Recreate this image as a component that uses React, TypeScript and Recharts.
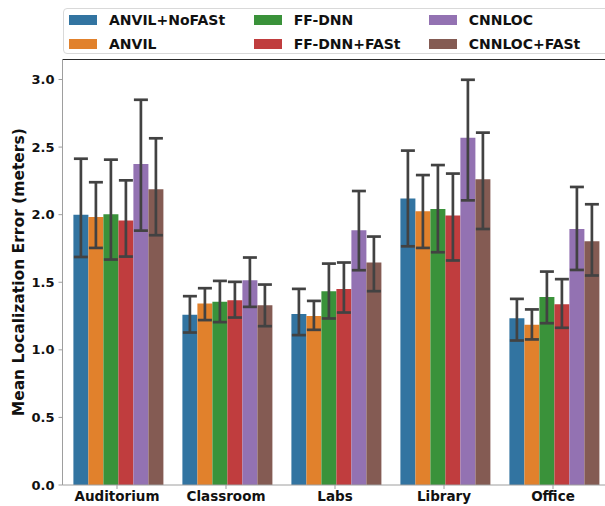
import React from 'react';
import { BarChart, Bar, XAxis, YAxis, ErrorBar, ReferenceLine } from 'recharts';

const categories = ['Auditorium', 'Classroom', 'Labs', 'Library', 'Office'];

const seriesNames = ['ANVIL+NoFASt', 'ANVIL', 'FF-DNN', 'FF-DNN+FASt', 'CNNLOC', 'CNNLOC+FASt'];
const seriesColors = ['#3274A1', '#E1812C', '#3A923A', '#C03D3E', '#9372B2', '#845B53'];

// mean values per series (in category order)
const anvilNoFast = [2.0, 1.26, 1.266, 2.119, 1.234];
const anvil = [1.983, 1.343, 1.251, 2.025, 1.185];
const ffDnn = [2.003, 1.355, 1.434, 2.042, 1.39];
const ffDnnFast = [1.956, 1.367, 1.451, 1.993, 1.338];
const cnnloc = [2.375, 1.515, 1.885, 2.57, 1.894];
const cnnlocFast = [2.188, 1.33, 1.646, 2.262, 1.803];

// confidence interval lower bounds
const anvilNoFastLow = [1.687, 1.128, 1.109, 1.766, 1.069];
const anvilLow = [1.754, 1.22, 1.148, 1.754, 1.077];
const ffDnnLow = [1.668, 1.205, 1.232, 1.722, 1.197];
const ffDnnFastLow = [1.69, 1.239, 1.276, 1.661, 1.163];
const cnnlocLow = [1.882, 1.318, 1.589, 2.106, 1.591];
const cnnlocFastLow = [1.848, 1.175, 1.434, 1.894, 1.55];

// confidence interval upper bounds
const anvilNoFastHigh = [2.414, 1.397, 1.451, 2.474, 1.377];
const anvilHigh = [2.24, 1.456, 1.362, 2.293, 1.299];
const ffDnnHigh = [2.407, 1.51, 1.638, 2.367, 1.579];
const ffDnnFastHigh = [2.254, 1.503, 1.646, 2.304, 1.523];
const cnnlocHigh = [2.85, 1.683, 2.175, 2.998, 2.205];
const cnnlocFastHigh = [2.565, 1.483, 1.838, 2.607, 2.077];

const yTicks = [0, 0.5, 1.0, 1.5, 2.0, 2.5, 3.0];
const Y_MAX = 3.148;

const means = [anvilNoFast, anvil, ffDnn, ffDnnFast, cnnloc, cnnlocFast];
const lows = [anvilNoFastLow, anvilLow, ffDnnLow, ffDnnFastLow, cnnlocLow, cnnlocFastLow];
const highs = [anvilNoFastHigh, anvilHigh, ffDnnHigh, ffDnnFastHigh, cnnlocHigh, cnnlocFastHigh];

const data = categories.map((cat, i) => {
  const row: any = { name: cat };
  means.forEach((m, s) => {
    row['s' + s] = m[i];
    row['e' + s] = [m[i] - lows[s][i], highs[s][i] - m[i]];
  });
  return row;
});

const FONT = 'DejaVu Sans, sans-serif';

const legendCols = [[0, 1], [2, 3], [4, 5]];
const colSwatchX = [68, 252.7, 427.7];
const rowY = [19, 42.7];

function LegendBox() {
  return (
    <div
      style={{
        position: 'absolute',
        left: 62.5,
        top: 8,
        width: 560,
        height: 46,
        boxSizing: 'border-box',
        border: '1px solid #d9d9d9',
        borderRadius: 4,
        background: 'rgba(255,255,255,0.8)',
        fontFamily: FONT,
        fontWeight: 'bold',
        fontSize: 14,
        color: '#111',
      }}
    >
      {legendCols.map((col, c) =>
        col.map((s, r) => (
          <div
            key={s}
            style={{
              position: 'absolute',
              left: colSwatchX[c] - 62.5,
              top: rowY[r] - 8 - 10,
              height: 20,
              display: 'flex',
              alignItems: 'center',
              whiteSpace: 'nowrap',
            }}
          >
            <span style={{ display: 'inline-block', width: 28, height: 10, background: seriesColors[s], marginRight: 12 }} />
            <span>{seriesNames[s]}</span>
          </div>
        ))
      )}
    </div>
  );
}

export default function App() {
  return (
    <div style={{ position: 'fixed', left: 0, top: 0, width: 605, height: 506, overflow: 'hidden', background: '#fff' }}>
      <BarChart
        width={620}
        height={506}
        data={data}
        margin={{ top: 59.5, right: 12.5, left: 0, bottom: 0 }}
        barCategoryGap="10%"
        barGap={0}
      >
        <XAxis
          dataKey="name"
          height={21}
          tickSize={4}
          tickMargin={2}
          stroke="#9e9e9e"
          tick={{ fill: '#111', fontFamily: FONT, fontWeight: 'bold', fontSize: 13.5 }}
          tickLine={{ stroke: '#9e9e9e' }}
        />
        <YAxis
          type="number"
          domain={[0, Y_MAX]}
          ticks={yTicks}
          width={62.5}
          tickSize={4}
          tickMargin={4}
          stroke="#9e9e9e"
          tickFormatter={(v: number) => v.toFixed(1)}
          tick={{ fill: '#111', fontFamily: FONT, fontWeight: 'bold', fontSize: 13 }}
          label={{
            content: (props: any) => {
              const vb = props.viewBox || {};
              const cy = (vb.y ?? 59.5) + (vb.height ?? 425.5) / 2;
              return (
                <text
                  x={19}
                  y={cy}
                  transform={`rotate(-90, 19, ${cy})`}
                  textAnchor="middle"
                  dominantBaseline="central"
                  fontFamily={FONT}
                  fontWeight="bold"
                  fontSize={15.5}
                  fill="#111"
                >
                  Mean Localization Error (meters)
                </text>
              );
            },
          }}
        />
        <ReferenceLine y={Y_MAX} stroke="#2b2b2b" strokeWidth={1.2} />
        {seriesNames.map((n, s) => (
          <Bar key={n} dataKey={'s' + s} name={n} fill={seriesColors[s]} isAnimationActive={false}>
            <ErrorBar dataKey={'e' + s} width={7} stroke="#424242" strokeWidth={2.7} direction="y" />
          </Bar>
        ))}
      </BarChart>
      <LegendBox />
    </div>
  );
}
